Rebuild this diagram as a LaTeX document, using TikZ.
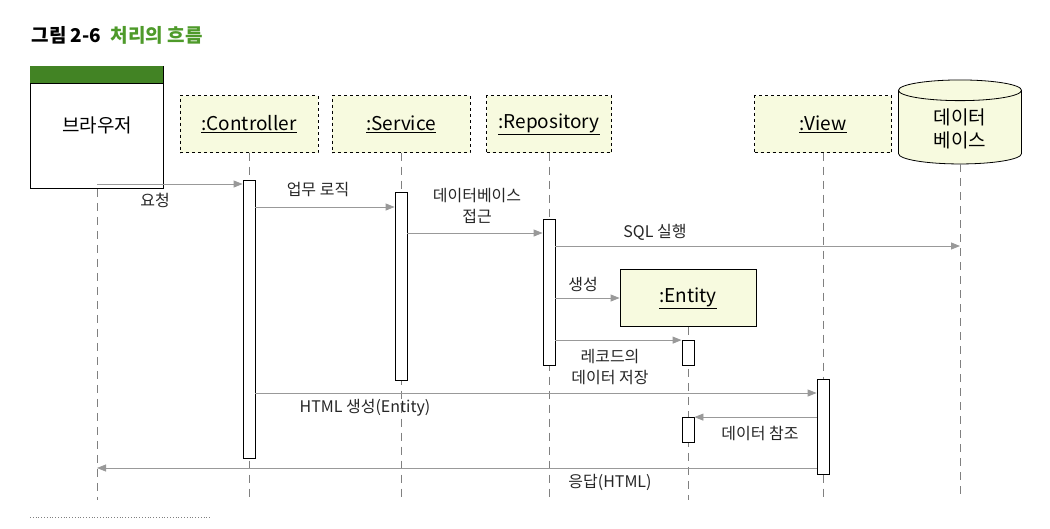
\documentclass[tikz,border=0pt]{standalone}
\usepackage{fontspec}
\setmainfont{Noto Sans CJK KR}
\usetikzlibrary{shapes.geometric,arrows.meta}
\definecolor{boxfill}{HTML}{F7FADF}
\definecolor{titlegreen}{HTML}{4E9A2A}
\begin{document}
\begin{tikzpicture}[x=1pt,y=-1pt,font=\fontsize{19}{23}\selectfont]
    \tikzset{obj/.style = {draw, dashed, fill=boxfill, minimum height=57pt, inner sep=0pt},
        life/.style = {gray, dashed, dash pattern=on 8pt off 6pt},
        act/.style  = {draw, thick, fill=white, minimum width=12pt, inner sep=0pt},
        msg/.style  = {gray!80, thick, -{Triangle[length=9pt,width=7pt]}},
        lbl/.style  = {text=black!85, align=center, font=\fontsize{16}{21}\selectfont}
        }
    \useasboundingbox (0,0) rectangle (1050,528);

    % Title.
    \node[anchor=west, font=\fontsize{19}{22}\selectfont\bfseries] (title) at (28,35)
        {그림 2-6\enspace\textcolor{titlegreen}{처리의 흐름}};

    % Browser and objects.
    \node[draw, thick, minimum width=133pt, minimum height=122pt, anchor=north west] (browser) at (30,66) {};
    \fill[titlegreen!85!black] (30,66) rectangle (163,83);
    \draw[thick] (30,83) -- (163,83);
    \node (browsertxt) at (97,125) {브라우저};
    \node[obj, minimum width=138pt] (ctrl) at (249,124) {\underline{:Controller}};
    \node[obj, minimum width=138pt] (svc)  at (401,124) {\underline{:Service}};
    \node[obj, minimum width=125pt] (repo) at (549,124) {\underline{:Repository}};
    \node[obj, minimum width=137pt] (view) at (823,124) {\underline{:View}};
    \node[draw, thick, fill=boxfill, cylinder, shape border rotate=90, aspect=0.35,
        minimum width=123pt, minimum height=84pt, align=center] (db) at (960,129) {데이터\\베이스};
    \node[draw, thick, fill=boxfill, minimum width=136pt, minimum height=57pt] (entity) at (688,298) {\underline{:Entity}};

    % Lifelines.
    \coordinate (bEnd) at (97,500);
    \coordinate (cEnd) at (249,500);
    \coordinate (sEnd) at (401,500);
    \coordinate (rEnd) at (549,500);
    \coordinate (eEnd) at (688,500);
    \coordinate (vEnd) at (823,500);
    \coordinate (dEnd) at (960,500);
    \draw[life] (browser.south -| bEnd) -- (bEnd);
    \draw[life] (ctrl.south) -- (cEnd);
    \draw[life] (svc.south) -- (sEnd);
    \draw[life] (repo.south) -- (rEnd);
    \draw[life] (entity.south) -- (eEnd);
    \draw[life] (view.south) -- (vEnd);
    \draw[life] (db.south) -- (dEnd);

    % Activations.
    \node[act, minimum height=278pt] (aC) at (249,319) {};
    \node[act, minimum height=188pt] (aS) at (401,286) {};
    \node[act, minimum height=146pt] (aR) at (549,292) {};
    \node[act, minimum height=25pt]  (aE1) at (688,353) {};
    \node[act, minimum height=25pt]  (aE2) at (688,430) {};
    \node[act, minimum height=95pt]  (aV) at (823,427) {};

    % Messages.
    \coordinate (bTop) at (97,184);
    \draw[msg] (bTop) -- (bTop -| aC.west);
    \node[lbl] (l1) at (155,200) {요청};
    \draw[msg] (aC.east |- 0,207) -- (aS.west |- 0,207);
    \node[lbl] (l2) at (318,190) {업무 로직};
    \draw[msg] (aS.east |- 0,233) -- (aR.west |- 0,233);
    \node[lbl] (l3) at (477,206) {데이터베이스\\접근};
    \draw[msg] (aR.east |- 0,246) -- (db.center |- 0,246);
    \node[lbl] (l4) at (655,232) {SQL 실행};
    \draw[msg] (aR.east |- entity.west) -- (entity.west);
    \node[lbl] (l5) at (583,284) {생성};
    \draw[msg] (aR.east |- aE1.north west) -- (aE1.north west);
    \node[lbl] (l6) at (610,367) {레코드의\\데이터 저장};
    \draw[msg] (aC.east |- 0,393) -- (aV.west |- 0,393);
    \node[lbl] (l7) at (365,408) {HTML 생성(Entity)};
    \draw[msg] (aV.west |- aE2.north east) -- (aE2.north east);
    \node[lbl] (l8) at (760,433) {데이터 참조};
    \draw[msg] (aV.west |- 0,468) -- (bEnd |- 0,468);
    \node[lbl] (l9) at (610,482) {응답(HTML)};

    % Footer rule.
    \draw[gray, dotted, thick] (30,517) -- (210,517);
\end{tikzpicture}
\end{document}
